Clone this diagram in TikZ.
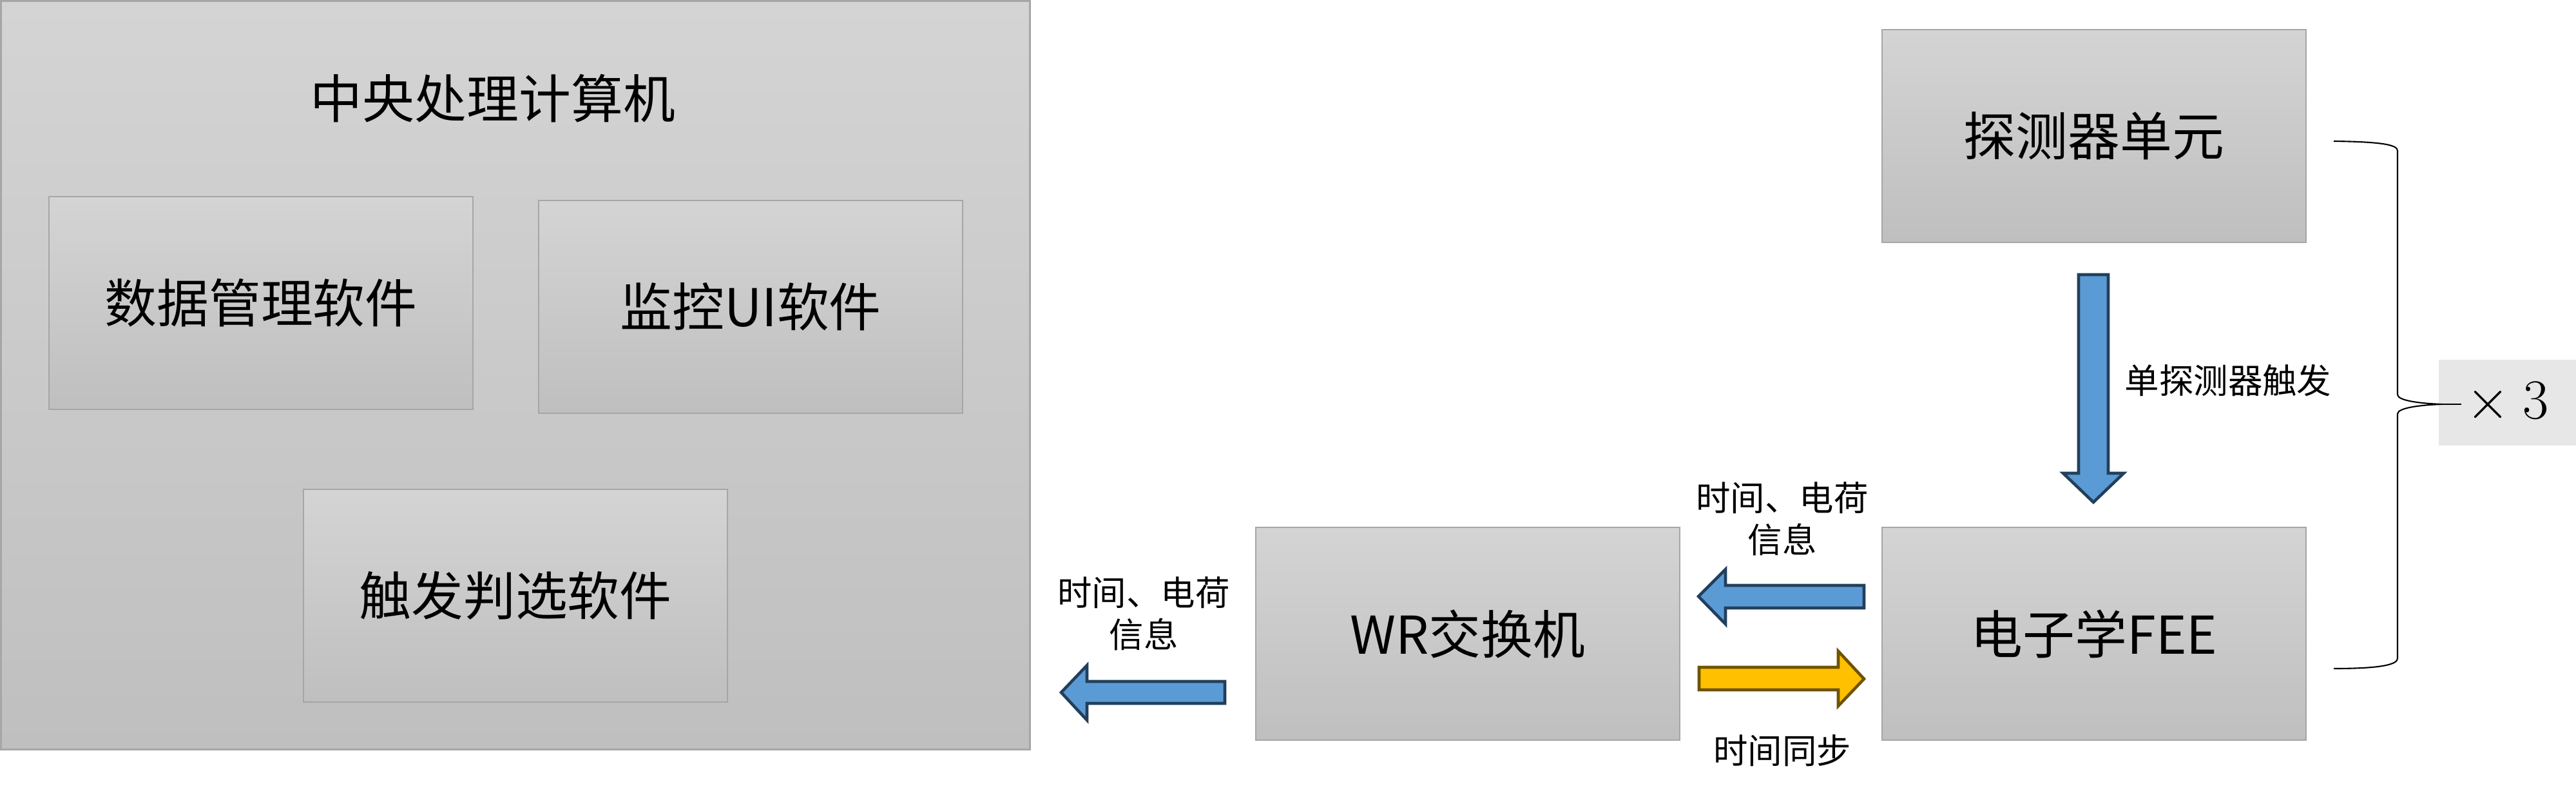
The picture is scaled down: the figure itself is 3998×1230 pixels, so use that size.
\documentclass[tikz,border=0pt]{standalone}
\usepackage{fontspec}
\setmainfont{Noto Sans CJK SC}
\definecolor{gtop}{HTML}{D4D4D4}
\definecolor{gbot}{HTML}{BFBFBF}
\definecolor{boxline}{HTML}{A6A6A6}
\definecolor{bluefill}{HTML}{5B9BD5}
\definecolor{bluedraw}{HTML}{223F5C}
\definecolor{yelfill}{HTML}{FFC000}
\definecolor{yeldraw}{HTML}{6E5300}
\definecolor{xbg}{HTML}{E7E7E7}
\begin{document}
\begin{tikzpicture}[x=0.01cm,y=-0.01cm,
  bigfont/.style={font=\fontsize{23}{28}\selectfont},
  smallfont/.style={font=\fontsize{15.2}{18.5}\selectfont},
  subbox/.style={draw=boxline, line width=0.6pt, top color=gtop, bottom color=gbot,
     minimum width=6.57cm, minimum height=3.29cm, inner sep=0pt, bigfont},
  lbl/.style={align=center, inner sep=0pt, smallfont},
  bluearrow/.style={fill=bluefill, draw=bluedraw, line width=1.3pt, line join=miter},
  yelarrow/.style={fill=yelfill, draw=yeldraw, line width=1.3pt, line join=miter},
  bracepath/.style={draw=black, line width=0.6pt}
]
\useasboundingbox (0,0) rectangle (3998,1230);
% central computer
\node[draw=boxline, line width=0.85pt, top color=gtop, bottom color=gbot,
      minimum width=15.96cm, minimum height=11.60cm, inner sep=0pt] (cpu) at (800,582) {};
\node[bigfont, inner sep=0pt] (cputitle) at (765,153) {中央处理计算机};
\node[subbox] (dm) at (405,470) {数据管理软件};
\node[subbox] (ui) at (1165,476) {监控UI软件};
\node[subbox] (tr) at (800,924) {触发判选软件};
% right part
\node[subbox] (wr) at (2278,983) {WR交换机};
\node[subbox] (det) at (3250,211) {探测器单元};
\node[subbox] (fee) at (3250,983) {电子学FEE};
% block arrows
\draw[bluearrow] (1901,1057) -- (1687,1057) -- (1687,1032) -- (1647,1074) -- (1687,1117) -- (1687,1091) -- (1901,1091) -- cycle;
\draw[bluearrow] (2893,908) -- (2678,908) -- (2678,883) -- (2636,925) -- (2678,968) -- (2678,943) -- (2893,943) -- cycle;
\draw[yelarrow] (2637,1035) -- (2853,1035) -- (2853,1010) -- (2893,1053) -- (2853,1095) -- (2853,1070) -- (2637,1070) -- cycle;
\draw[bluearrow] (3226,426) -- (3272,426) -- (3272,734) -- (3296,734) -- (3249,779) -- (3202,734) -- (3226,734) -- cycle;
% labels
\node[lbl] (lblout) at (1775,952) {时间、电荷\\信息};
\node[lbl] (lblin) at (2766,805) {时间、电荷\\信息};
\node[lbl] (lblsync) at (2766,1164) {时间同步};
\node[lbl] (lbltrig) at (3458,590) {单探测器触发};
% x3 box
\node[fill=xbg, minimum width=2.13cm, minimum height=1.33cm, inner sep=0pt,
      font=\fontsize{25}{30}\selectfont] (x3) at (3891.5,624.5) {$\times\mkern4mu 3$};
% brace
\coordinate (btip) at (3790,627);
\draw[bracepath] (3622,219) .. controls (3700,220) and (3721,225) .. (3721,234) -- (3721,612)
   .. controls (3721,622) and (3760,626) .. (btip)
   .. controls (3760,628) and (3721,632) .. (3721,642) -- (3721,1021)
   .. controls (3721,1030) and (3700,1037) .. (3622,1037);
\draw[bracepath] (btip) -- (3820,627);
\end{tikzpicture}
\end{document}
